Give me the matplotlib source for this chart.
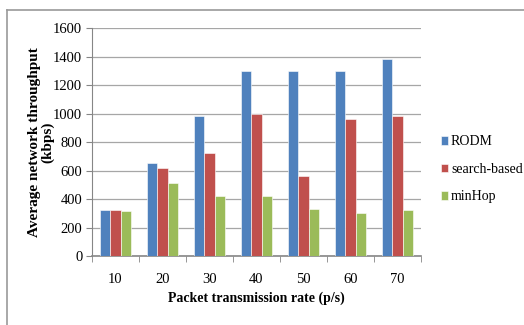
import numpy as np
import matplotlib.pyplot as plt
from matplotlib.lines import Line2D

plt.rcParams['font.family'] = ['Liberation Serif', 'DejaVu Serif']

rates = ['10', '20', '30', '40', '50', '60', '70']
rodm = [325, 650, 980, 1300, 1300, 1300, 1380]
search_based = [320, 620, 720, 1000, 558, 960, 985]
min_hop = [315, 512, 418, 418, 328, 305, 320]

series = [('RODM', rodm, '#4F81BD'),
          ('search-based', search_based, '#C0504D'),
          ('minHop', min_hop, '#9BBB59')]

fig = plt.figure(figsize=(5.24, 3.25), dpi=100)
ax = fig.add_axes([0.1756, 0.2123, 0.6278, 0.7015])

x = np.arange(len(rates))
w = 0.215
for i, (name, vals, col) in enumerate(series):
    ax.bar(x + (i - 1) * w, vals, w, color=col, label=name,
           edgecolor='white', linewidth=0.4, zorder=3)

ax.set_xlim(-0.5, len(rates) - 0.5)
ax.set_ylim(0, 1600)
ax.set_yticks(range(0, 1601, 200))
ax.set_xticks(x)
ax.set_xticklabels(rates)
ax.set_xticks(np.arange(-0.5, len(rates)), minor=True)
ax.tick_params(axis='x', which='major', length=0, labelsize=10.5, pad=12)
ax.tick_params(axis='x', which='minor', length=4, color='#868686', direction='out')
ax.tick_params(axis='y', length=4, color='#868686', labelsize=10.5, pad=3)

ax.grid(axis='y', color='#a6a6a6', linewidth=0.9, zorder=0)
for s in ['top', 'right']:
    ax.spines[s].set_visible(False)
ax.spines['left'].set_color('#868686')
ax.spines['bottom'].set_color('#868686')
ax.spines['bottom'].set_linewidth(1.2)

ax.set_xlabel('Packet transmission rate (p/s)', fontsize=10, fontweight='bold', labelpad=4)
ax.set_ylabel('Average network throughput\n(kbps)', fontsize=11, fontweight='bold',
              linespacing=0.95)
ax.yaxis.set_label_coords(-0.115, 0.5)

ax.legend(loc='center left', bbox_to_anchor=(1.03, 0.38), frameon=False,
          fontsize=10, handlelength=0.55, handleheight=0.6, handletextpad=0.2,
          labelspacing=1.05, borderaxespad=0.3)

# outer frame (left and top edges)
fig.add_artist(Line2D([0.0134, 0.0134], [0, 0.969], transform=fig.transFigure,
                      color='#9a9a9a', linewidth=1.2))
fig.add_artist(Line2D([0.0134, 1.0], [0.969, 0.969], transform=fig.transFigure,
                      color='#9a9a9a', linewidth=1.2))

fig.savefig('out.png', dpi=100)
